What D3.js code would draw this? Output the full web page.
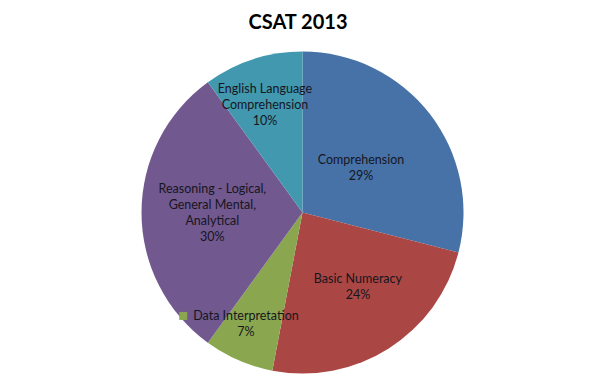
<!DOCTYPE html>
<html>
<head>
<meta charset="utf-8">
<script src="https://cdn.jsdelivr.net/npm/d3@7"></script>
<style>
  html, body { margin: 0; padding: 0; background: #fff; }
  svg { display: block; }
  text { font-family: Lato, "Liberation Sans", Arial, sans-serif; }
</style>
</head>
<body>
<svg id="chart" width="602" height="384"></svg>
<script>
const title = "CSAT 2013";
const categories = [
  "Comprehension",
  "Basic Numeracy",
  "Data Interpretation",
  "Reasoning - Logical, General Mental, Analytical",
  "English Language Comprehension"
];
const labelLines = [
  ["Comprehension"],
  ["Basic Numeracy"],
  ["Data Interpretation"],
  ["Reasoning - Logical,", "General Mental,", "Analytical"],
  ["English Language", "Comprehension"]
];
const values = [29, 24, 7, 30, 10];
const colors = ["#4672A8", "#AA4644", "#8AA64F", "#71588F", "#4198AF"];
const labelRadiusFrac = [0.46, 0.572, 0.776, 0.56, 0.713];
const labelAngleShiftDeg = [0, -4.6, 3.5, 0, -1.1];

const W = 602, H = 384;
const cx = 302.5, cy = 212.5, R = 161;
const svg = d3.select("#chart");

svg.append("text")
  .attr("x", 298).attr("y", 29)
  .attr("text-anchor", "middle")
  .style("font-weight", "bold")
  .style("font-size", "20px")
  .style("fill", "#000")
  .text(title);

const data = categories.map((c, i) => ({ name: c, value: values[i], i }));
const pie = d3.pie().value(d => d.value).sort(null);
const arcs = pie(data);
const arc = d3.arc().innerRadius(0).outerRadius(R);

const g = svg.append("g").attr("transform", `translate(${cx},${cy})`);
g.selectAll("path.slice").data(arcs).enter().append("path")
  .attr("class", "slice")
  .attr("d", arc)
  .attr("fill", d => colors[d.data.i]);

const total = d3.sum(values);
const lineH = 16;
arcs.forEach(d => {
  const i = d.data.i;
  const lr = R * labelRadiusFrac[i];
  const shift = labelAngleShiftDeg[i] * Math.PI / 180;
  const la = d3.arc().innerRadius(lr).outerRadius(lr);
  const [x, y] = la.centroid({ startAngle: d.startAngle + shift, endAngle: d.endAngle + shift });
  const lines = labelLines[i].concat([Math.round(d.data.value / total * 100) + "%"]);
  const n = lines.length;
  const t = g.append("text")
    .attr("text-anchor", "middle")
    .style("font-size", "12.5px")
    .style("fill", "#16161e");
  lines.forEach((ln, k) => {
    t.append("tspan")
      .attr("x", x)
      .attr("y", y + (k - (n - 1) / 2) * lineH + 4.5)
      .text(ln);
  });
  if (i === 2) {
    const bb = t.node().getBBox();
    g.append("rect")
      .attr("x", bb.x - 14).attr("y", y - (n - 1) / 2 * lineH - 4)
      .attr("width", 8).attr("height", 8)
      .attr("fill", colors[i]);
  }
});
</script>
</body>
</html>
